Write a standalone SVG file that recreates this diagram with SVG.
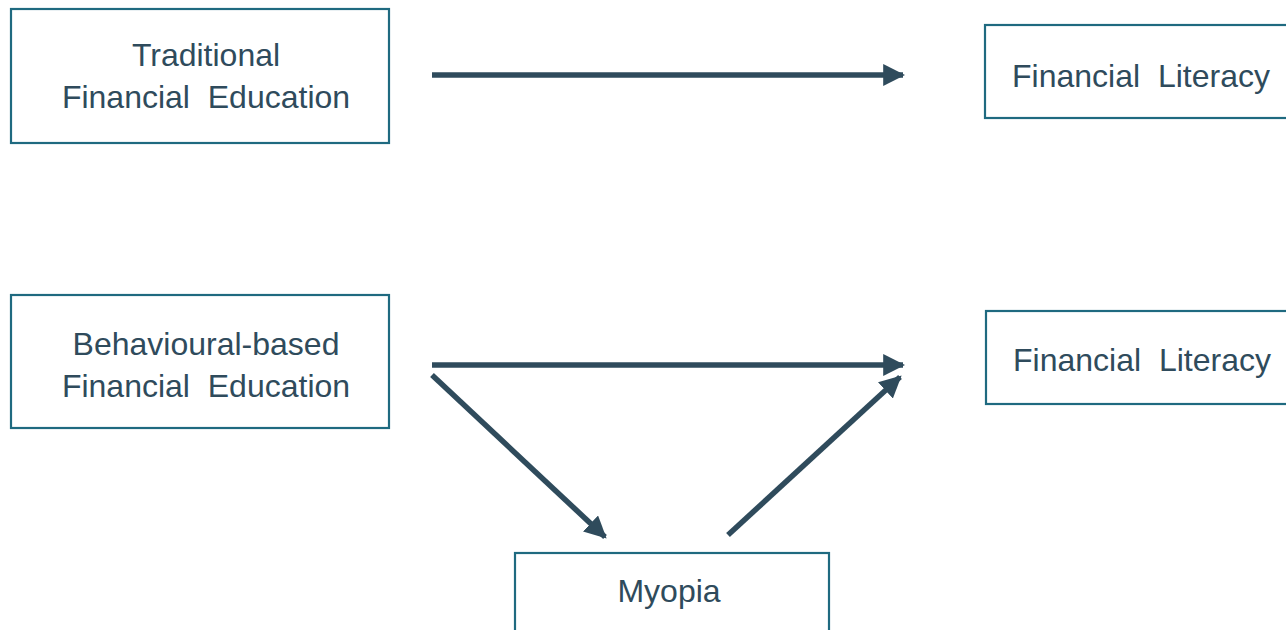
<svg xmlns="http://www.w3.org/2000/svg" width="1286" height="630" viewBox="0 0 1286 630">
<style>
.box{fill:#fff;stroke:#1f6a80;stroke-width:2.2}
.t{font-family:"Liberation Sans",Arial,sans-serif;font-size:32px;fill:#2f4b5c;text-anchor:middle;white-space:pre}
.c{stroke:#2f4b5c;stroke-width:5.5;fill:none}
</style>
<defs>
<marker id="ah" viewBox="0 0 10 10" refX="9" refY="5" markerWidth="4" markerHeight="4" markerUnits="strokeWidth" orient="auto">
<path d="M0,0 L10,5 L0,10 Z" fill="#2f4b5c"/>
</marker>
</defs>
<rect width="1286" height="630" fill="#fff"/>
<g id="traditional">
<rect class="box" x="11" y="9" width="378" height="134"/>
<text class="t" x="206" y="66">Traditional</text>
<text class="t" x="206" y="108" xml:space="preserve">Financial  Education</text>
</g>
<g id="literacy1">
<rect class="box" x="985" y="25" width="310" height="93"/>
<text class="t" x="1141" y="87" xml:space="preserve">Financial  Literacy</text>
</g>
<g id="behavioural">
<rect class="box" x="11" y="295" width="378" height="133"/>
<text class="t" x="206" y="355">Behavioural-based</text>
<text class="t" x="206" y="397" xml:space="preserve">Financial  Education</text>
</g>
<g id="literacy2">
<rect class="box" x="986" y="311" width="310" height="93"/>
<text class="t" x="1142" y="371" xml:space="preserve">Financial  Literacy</text>
</g>
<g id="myopia">
<rect class="box" x="515" y="553" width="314" height="90"/>
<text class="t" x="669" y="602">Myopia</text>
</g>
<g id="connectors">
<line class="c" x1="432" y1="75" x2="903" y2="75" marker-end="url(#ah)"/>
<line class="c" x1="432" y1="365" x2="903" y2="365" marker-end="url(#ah)"/>
<line class="c" x1="432" y1="375" x2="605" y2="537" marker-end="url(#ah)"/>
<line class="c" x1="728" y1="535" x2="900" y2="377" marker-end="url(#ah)"/>
</g>
</svg>
